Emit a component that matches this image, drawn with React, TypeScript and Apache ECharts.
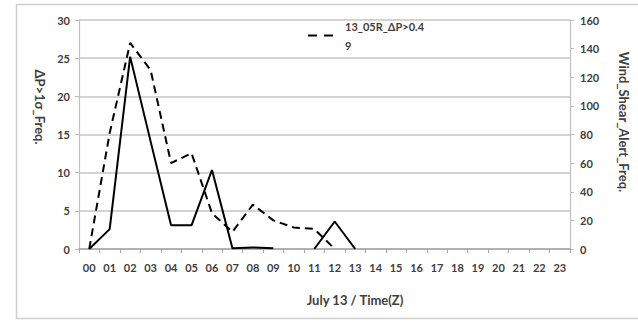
import React, { useEffect, useRef } from "react";
import * as echarts from "echarts";

// Hours of the day (Z)
const hours: string[] = [
  "00", "01", "02", "03", "04", "05", "06", "07", "08", "09", "10", "11",
  "12", "13", "14", "15", "16", "17", "18", "19", "20", "21", "22", "23",
];

// ΔP>1σ frequency (left axis), solid line
const deltaPFreq: (number | null)[] = [
  0, 2.6, 25.2, 14.1, 3.1, 3.1, 10.35, 0.1, 0.2, 0.1, null, 0, 3.6, 0,
  null, null, null, null, null, null, null, null, null, null,
];

// 13_05R ΔP>0.49 counts (right axis), dashed line
const runway13Counts: (number | null)[] = [
  0, 81, 144, 125, 60, 67, 25, 12, 31, 20, 15, 14, 0, null,
  null, null, null, null, null, null, null, null, null, null,
];

const dashedName = "13_05R_ΔP>0.49";
const leftName = "ΔP>1σ_Freq.";
const rightName = "Wind_Shear_Alert_Freq.";
const xName = "July 13 / Time(Z)";

const FONT = "Lato, 'Open Sans', sans-serif";
const LABEL_COLOR = "#404040";

// two short dashes used as the legend key of the dashed series
const DASH_ICON = "path://M0,0h9v2h-9zM16,0h9v2h-9z";

export default function App() {
  const ref = useRef<HTMLDivElement>(null);

  useEffect(() => {
    if (!ref.current) return;
    const chart = echarts.init(ref.current, undefined, { renderer: "svg" });
    chart.setOption({
      animation: false,
      backgroundColor: "#ffffff",
      textStyle: { fontFamily: FONT },
      graphic: [
        {
          type: "rect",
          shape: { x: 16.5, y: 4.5, width: 630, height: 314 },
          style: { fill: "none", stroke: "#cfcfcf", lineWidth: 1.5 },
          silent: true,
          z: -1,
        },
      ],
      legend: {
        data: [{ name: dashedName, icon: DASH_ICON }],
        left: 303,
        top: 2,
        itemWidth: 25,
        itemHeight: 2,
        itemStyle: { color: "#000000" },
        textStyle: {
          fontFamily: FONT,
          fontSize: 11,
          fontWeight: "bold",
          color: LABEL_COLOR,
          width: 84,
          overflow: "breakAll",
          lineHeight: 19,
          padding: [19, 0, 0, 7],
        },
      },
      grid: { left: 79, top: 20, right: 65, bottom: 73, containLabel: false },
      xAxis: {
        type: "category",
        data: hours,
        boundaryGap: true,
        name: xName,
        nameLocation: "middle",
        nameGap: 44,
        nameTextStyle: {
          fontFamily: FONT,
          fontSize: 13,
          fontWeight: "bold",
          color: LABEL_COLOR,
          padding: [0, 0, 0, 61],
        },
        axisLine: { show: true, lineStyle: { color: "#a6a6a6", width: 1.5 } },
        axisTick: { show: true, inside: false, length: 4, lineStyle: { color: "#a6a6a6" } },
        axisLabel: {
          margin: 13,
          fontFamily: FONT,
          fontSize: 11,
          fontWeight: "bold",
          color: LABEL_COLOR,
          interval: 0,
        },
        splitLine: { show: false },
      },
      yAxis: [
        {
          type: "value",
          min: 0,
          max: 30,
          interval: 5,
          position: "left",
          name: leftName,
          nameLocation: "middle",
          nameRotate: -90,
          nameGap: 33,
          nameTextStyle: {
            fontFamily: FONT,
            fontSize: 13,
            fontWeight: "bold",
            color: LABEL_COLOR,
            padding: [0, 55, 0, 0],
          },
          axisLine: { show: true, lineStyle: { color: "#bfbfbf", width: 1.2 } },
          axisTick: { show: true, inside: false, length: 4, lineStyle: { color: "#bfbfbf" } },
          axisLabel: {
            margin: 9,
            fontFamily: FONT,
            fontSize: 11,
            fontWeight: "bold",
            color: LABEL_COLOR,
          },
          splitLine: { show: true, lineStyle: { color: "#c4c4c4", width: 1.5 } },
        },
        {
          type: "value",
          min: 0,
          max: 160,
          interval: 20,
          position: "right",
          name: rightName,
          nameLocation: "middle",
          nameRotate: -90,
          nameGap: 47,
          nameTextStyle: {
            fontFamily: FONT,
            fontSize: 13,
            fontWeight: "bold",
            color: LABEL_COLOR,
            padding: [0, 25, 0, 0],
          },
          axisLine: { show: true, lineStyle: { color: "#bfbfbf", width: 1.2 } },
          axisTick: { show: true, inside: false, length: 4, lineStyle: { color: "#bfbfbf" } },
          axisLabel: {
            margin: 10,
            fontFamily: FONT,
            fontSize: 11,
            fontWeight: "bold",
            color: LABEL_COLOR,
          },
          splitLine: { show: false },
        },
      ],
      series: [
        {
          name: leftName,
          type: "line",
          yAxisIndex: 0,
          data: deltaPFreq,
          symbol: "none",
          connectNulls: false,
          lineStyle: { color: "#000000", width: 2, type: "solid" },
          itemStyle: { color: "#000000" },
          z: 3,
        },
        {
          name: dashedName,
          type: "line",
          yAxisIndex: 1,
          data: runway13Counts,
          symbol: "none",
          connectNulls: false,
          lineStyle: { color: "#000000", width: 2, type: [8, 5] },
          itemStyle: { color: "#000000" },
          z: 2,
        },
      ],
    });
    return () => chart.dispose();
  }, []);

  return (
    <div
      ref={ref}
      style={{ position: "fixed", left: 0, top: 0, width: 638, height: 322, background: "#fff" }}
    />
  );
}
